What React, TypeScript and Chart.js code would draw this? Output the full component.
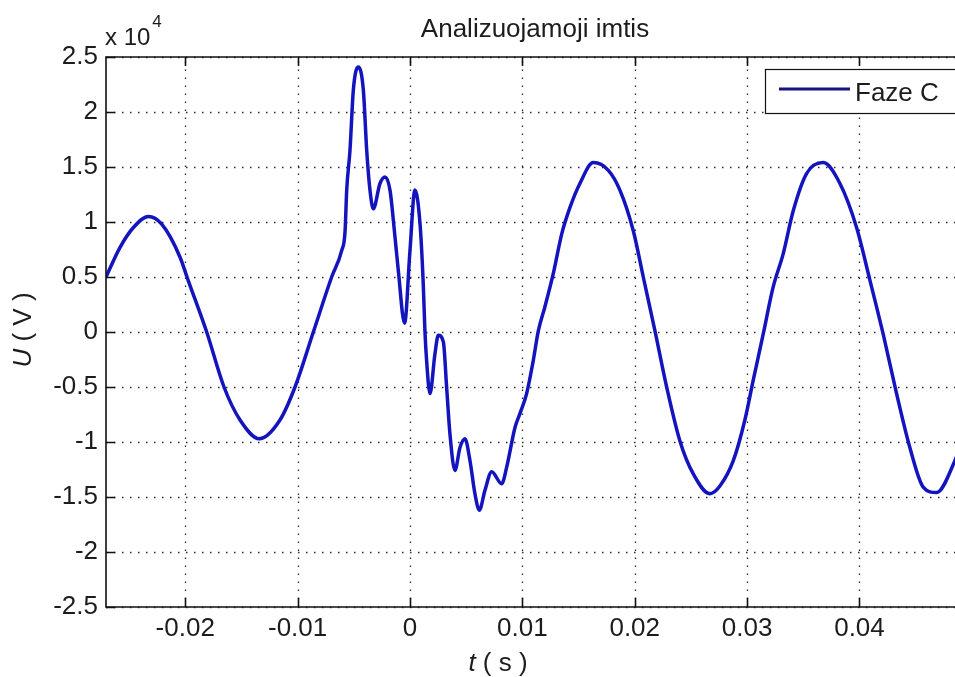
import React, { useEffect, useRef } from "react";
import { Chart, registerables } from "chart.js";

Chart.register(...registerables);

// ---- data (time in seconds, voltage in volts) ----
const TIME_S = [
  -0.02705, -0.0258, -0.02461, -0.02328, -0.02209, -0.02046, -0.01981, -0.01809,
  -0.01655, -0.01512, -0.01341, -0.01157, -0.01023, -0.0086, -0.00697, -0.00608,
  -0.00578, -0.00563, -0.00534, -0.00504, -0.0046, -0.00415, -0.00385, -0.00356,
  -0.00326, -0.00267, -0.00222, -0.00178, -0.00133, -0.00104, -0.00048, 0.0,
  0.00044, 0.00089, 0.00118, 0.00133, 0.00148, 0.00178, 0.00222, 0.00252,
  0.00297, 0.00326, 0.00356, 0.004, 0.00445, 0.00489, 0.00534, 0.00578,
  0.00617, 0.00667, 0.00727, 0.00816, 0.0086, 0.00934, 0.00979, 0.01038,
  0.01097, 0.01142, 0.01201, 0.01275, 0.0135, 0.01423, 0.01512, 0.01631,
  0.01765, 0.01868, 0.01987, 0.02076, 0.0218, 0.02284, 0.02402, 0.02521,
  0.02669, 0.02758, 0.02877, 0.0298, 0.03054, 0.03143, 0.03232, 0.03321,
  0.0341, 0.03529, 0.03677, 0.03826, 0.03974, 0.04093, 0.04211, 0.0433,
  0.04448, 0.04567, 0.04686, 0.04849, 0.0493,
];

const VOLTAGE_V = [
  5000, 7700, 9500, 10500, 9800, 6800, 4900, 0,
  -5000, -8000, -9700, -8000, -5000, 0, 5000, 7400,
  9100, 12900, 16500, 22000, 24100, 22000, 16500, 12900,
  11200, 13500, 14100, 12900, 8600, 5600, 800, 7400,
  12900, 9900, 4400, 100, -2600, -5600, -2000, -300,
  -900, -5000, -9300, -12600, -10500, -9700, -11700, -14700,
  -16200, -14400, -12700, -13800, -12300, -8700, -7400, -5600,
  -2600, 100, 2300, 5300, 8900, 11300, 13500, 15400,
  14700, 12900, 9200, 5000, 100, -5000, -9900, -12900,
  -14700, -14000, -11700, -8000, -4400, -200, 4100, 7100,
  11000, 14400, 15400, 13500, 9500, 4700, -200, -5600,
  -10500, -14100, -14600, -11700, -9500,
];

const X_TICKS = [-0.02, -0.01, 0, 0.01, 0.02, 0.03, 0.04];
const X_TICK_LABELS = ["-0.02", "-0.01", "0", "0.01", "0.02", "0.03", "0.04"];
const Y_TICKS = [25000, 20000, 15000, 10000, 5000, 0, -5000, -10000, -15000, -20000, -25000];
const Y_TICK_LABELS = ["2.5", "2", "1.5", "1", "0.5", "0", "-0.5", "-1", "-1.5", "-2", "-2.5"];
const X_MIN = -0.02705;
const X_MAX = 0.0493;
const Y_MIN = -25000;
const Y_MAX = 25000;

const TITLE = "Analizuojamoji imtis";
const SERIES_LABEL = "Faze C";
const EXPONENT_BASE = "x 10";
const EXPONENT = "4";
const Y_LABEL_VAR = "U";
const Y_LABEL_UNIT = " ( V )";
const X_LABEL_VAR = "t";
const X_LABEL_UNIT = " ( s )";

const FONT = "'Liberation Sans', Arial, sans-serif";
const LINE_COLOR = "#1414bf";
const TEXT_COLOR = "#1c1c1c";

const decorPlugin = {
  id: "matlabDecor",
  beforeDatasetsDraw(chart: any) {
    const { ctx, chartArea: a, scales } = chart;
    const xs = scales.x;
    const ys = scales.y;
    ctx.save();
    ctx.strokeStyle = "#2a2a2a";
    ctx.lineWidth = 1.3;
    ctx.setLineDash([1.5, 6.5]);
    X_TICKS.forEach((v) => {
      const px = Math.round(xs.getPixelForValue(v)) + 0.5;
      ctx.beginPath();
      ctx.moveTo(px, a.bottom);
      ctx.lineTo(px, a.top);
      ctx.stroke();
    });
    Y_TICKS.forEach((v) => {
      const py = Math.round(ys.getPixelForValue(v)) + 0.5;
      ctx.beginPath();
      ctx.moveTo(a.left, py);
      ctx.lineTo(a.right, py);
      ctx.stroke();
    });
    ctx.restore();
  },
  afterDraw(chart: any) {
    const { ctx, chartArea: a, scales } = chart;
    const xs = scales.x;
    const ys = scales.y;
    ctx.save();
    // axes box
    ctx.strokeStyle = "#111";
    ctx.lineWidth = 1.6;
    ctx.setLineDash([]);
    ctx.beginPath();
    ctx.moveTo(a.right, a.top);
    ctx.lineTo(a.left, a.top);
    ctx.lineTo(a.left, a.bottom);
    ctx.lineTo(a.right, a.bottom);
    ctx.lineTo(a.right, a.top);
    ctx.stroke();
    // inward ticks
    const tl = 9;
    X_TICKS.forEach((v) => {
      const px = Math.round(xs.getPixelForValue(v)) + 0.5;
      ctx.beginPath();
      ctx.moveTo(px, a.bottom);
      ctx.lineTo(px, a.bottom - tl);
      ctx.moveTo(px, a.top);
      ctx.lineTo(px, a.top + tl);
      ctx.stroke();
    });
    Y_TICKS.forEach((v) => {
      const py = Math.round(ys.getPixelForValue(v)) + 0.5;
      ctx.beginPath();
      ctx.moveTo(a.left, py);
      ctx.lineTo(a.left + tl, py);
      ctx.moveTo(a.right, py);
      ctx.lineTo(a.right - tl, py);
      ctx.stroke();
    });

    ctx.fillStyle = TEXT_COLOR;
    // title
    ctx.font = `26px ${FONT}`;
    ctx.textAlign = "center";
    ctx.textBaseline = "alphabetic";
    ctx.fillText(TITLE, (a.left + a.right) / 2, 37);

    // exponent
    ctx.textAlign = "left";
    ctx.font = `24px ${FONT}`;
    ctx.fillText(EXPONENT_BASE, a.left - 1, 45);
    const wb = ctx.measureText(EXPONENT_BASE).width;
    ctx.font = `17px ${FONT}`;
    ctx.fillText(EXPONENT, a.left - 1 + wb + 2, 27);

    // x label
    ctx.font = `italic 26px ${FONT}`;
    const wxv = ctx.measureText(X_LABEL_VAR).width;
    ctx.font = `26px ${FONT}`;
    const wxu = ctx.measureText(X_LABEL_UNIT).width;
    const xlx = 498 - (wxv + wxu) / 2;
    ctx.font = `italic 26px ${FONT}`;
    ctx.fillText(X_LABEL_VAR, xlx, 671);
    ctx.font = `26px ${FONT}`;
    ctx.fillText(X_LABEL_UNIT, xlx + wxv, 671);

    // y label (rotated)
    ctx.save();
    ctx.translate(31, 330);
    ctx.rotate(-Math.PI / 2);
    ctx.font = `italic 26px ${FONT}`;
    const wyv = ctx.measureText(Y_LABEL_VAR).width;
    ctx.font = `26px ${FONT}`;
    const wyu = ctx.measureText(Y_LABEL_UNIT).width;
    const ylx = -(wyv + wyu) / 2;
    ctx.font = `italic 26px ${FONT}`;
    ctx.fillText(Y_LABEL_VAR, ylx, 0);
    ctx.font = `26px ${FONT}`;
    ctx.fillText(Y_LABEL_UNIT, ylx + wyv, 0);
    ctx.restore();

    // legend
    const lx = 765, ly = 69, lw = 194, lh = 44;
    ctx.fillStyle = "#ffffff";
    ctx.fillRect(lx, ly, lw, lh);
    ctx.strokeStyle = "#111";
    ctx.lineWidth = 1.2;
    ctx.strokeRect(lx + 0.5, ly + 0.5, lw, lh);
    ctx.strokeStyle = "#14147a";
    ctx.lineWidth = 3;
    ctx.beginPath();
    ctx.moveTo(779, 89);
    ctx.lineTo(850, 89);
    ctx.stroke();
    ctx.fillStyle = TEXT_COLOR;
    ctx.font = `26px ${FONT}`;
    ctx.textAlign = "left";
    ctx.fillText(SERIES_LABEL, 855, 101);
    ctx.restore();
  },
};

export default function App() {
  const ref = useRef<HTMLCanvasElement | null>(null);
  useEffect(() => {
    const canvas = ref.current;
    if (!canvas) return;
    const points = TIME_S.map((t, i) => ({ x: t, y: VOLTAGE_V[i] }));
    const chart = new Chart(canvas, {
      type: "line",
      data: {
        datasets: [
          {
            label: SERIES_LABEL,
            data: points,
            borderColor: LINE_COLOR,
            borderWidth: 3.5,
            pointRadius: 0,
            fill: false,
            cubicInterpolationMode: "monotone",
          },
        ],
      },
      options: {
        animation: false,
        responsive: false,
        devicePixelRatio: 1,
        layout: { padding: { top: 57, right: 36, left: 0, bottom: 0 } },
        plugins: {
          legend: { display: false },
          title: { display: false },
          tooltip: { enabled: false },
        },
        scales: {
          x: {
            type: "linear",
            min: X_MIN,
            max: X_MAX,
            grid: { display: false, drawTicks: false },
            border: { display: false },
            afterBuildTicks: (s: any) => {
              s.ticks = X_TICKS.map((v) => ({ value: v }));
            },
            afterFit: (s: any) => {
              s.height = 70;
            },
            ticks: {
              padding: 6,
              maxRotation: 0,
              autoSkip: false,
              color: TEXT_COLOR,
              font: { family: FONT, size: 26 },
              callback: (v: any) => {
                const i = X_TICKS.findIndex((t) => Math.abs(t - Number(v)) < 1e-9);
                return i >= 0 ? X_TICK_LABELS[i] : "";
              },
            },
          },
          y: {
            type: "linear",
            min: Y_MIN,
            max: Y_MAX,
            grid: { display: false, drawTicks: false },
            border: { display: false },
            afterBuildTicks: (s: any) => {
              s.ticks = Y_TICKS.map((v) => ({ value: v }));
            },
            afterFit: (s: any) => {
              s.width = 106;
            },
            ticks: {
              padding: 8,
              autoSkip: false,
              color: TEXT_COLOR,
              font: { family: FONT, size: 26 },
              callback: (v: any) => {
                const i = Y_TICKS.findIndex((t) => Math.abs(t - Number(v)) < 1e-6);
                return i >= 0 ? Y_TICK_LABELS[i] : "";
              },
            },
          },
        },
      },
      plugins: [decorPlugin],
    });
    return () => chart.destroy();
  }, []);

  return (
    <div
      style={{
        position: "fixed",
        left: 0,
        top: 0,
        width: 955,
        height: 677,
        overflow: "hidden",
        background: "#ffffff",
      }}
    >
      <canvas ref={ref} width={1000} height={677} style={{ width: 1000, height: 677, display: "block" }} />
    </div>
  );
}
